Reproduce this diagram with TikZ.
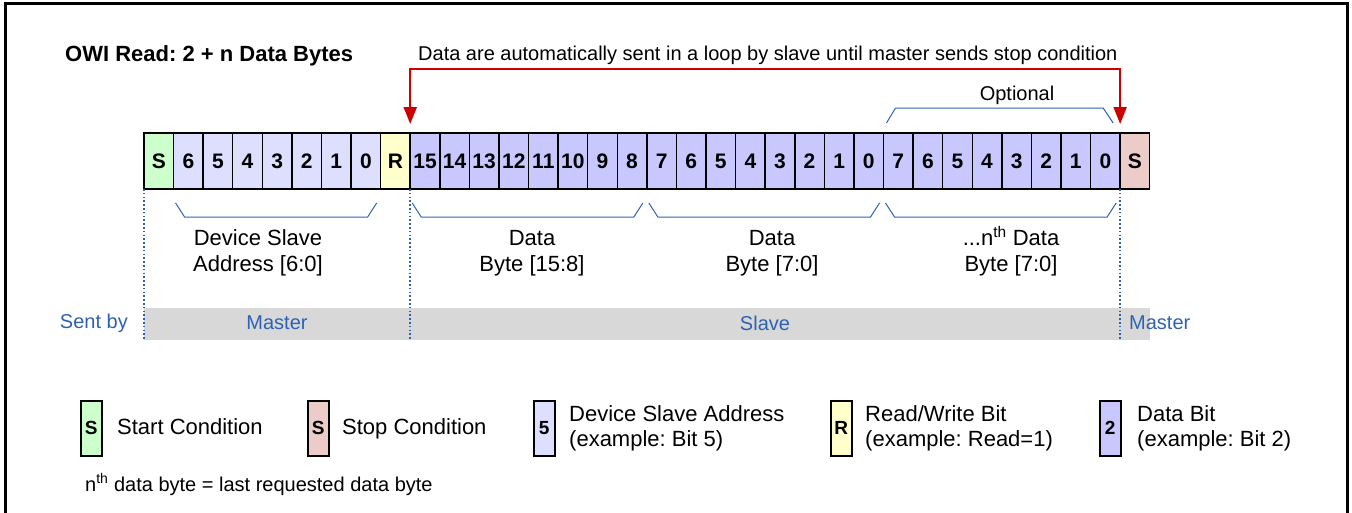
\documentclass[tikz,border=0pt]{standalone}
\usepackage{fontspec}
\setmainfont{Liberation Sans}
\usetikzlibrary{arrows.meta,calc}
\frenchspacing
\definecolor{startc}{RGB}{204,255,204}
\definecolor{stopc}{RGB}{236,204,200}
\definecolor{addrc}{RGB}{222,222,255}
\definecolor{datac}{RGB}{200,200,255}
\definecolor{rwc}{RGB}{255,255,204}
\definecolor{bluec}{RGB}{46,98,176}
\definecolor{redc}{RGB}{204,0,0}
\definecolor{bandc}{RGB}{216,216,216}
\newcommand\lowbrace[2]{\draw[bracestyle] ($(#1.south west)+(2,14)$) -- ($(#1.south west)+(11,28)$) -- ($(#2.south east)+(-13,28)$) -- ($(#2.south east)+(-4,14)$);}
\newcommand\supth{\smash{\textsuperscript{th}}}
\begin{document}
\begin{tikzpicture}[x=1pt,y=-1pt,
  bit/.style={draw=black,line width=1.5pt,minimum width=29.58pt,minimum height=56pt,inner sep=0pt,outer sep=0pt,anchor=north west,font=\fontsize{21}{21}\selectfont\bfseries},
  legbox/.style={draw=black,line width=1.5pt,minimum width=21pt,minimum height=55pt,inner sep=0pt,anchor=north west,font=\fontsize{19}{19}\selectfont\bfseries},
  txt/.style={inner sep=0pt,font=\fontsize{22}{26}\selectfont},
  legtxt/.style={inner sep=0pt,anchor=west,align=left,font=\fontsize{22}{25}\selectfont},
  small/.style={inner sep=0pt,font=\fontsize{20}{20}\selectfont},
  sent/.style={inner sep=0pt,text=bluec,font=\fontsize{20}{20}\selectfont},
  bracestyle/.style={draw=bluec,line width=1pt},
  dotline/.style={draw=bluec,line width=1.6pt,dash pattern=on 1.6pt off 2.2pt},
  redarr/.style={draw=redc,line width=2pt,{Triangle[width=13pt,length=17pt]}-{Triangle[width=13pt,length=17pt]}}
]
\useasboundingbox (0,0) rectangle (1352,512);
% frame
\draw[line width=3pt] (5,520) -- (5,3) -- (1347,3) -- (1347,520);
% title
\node[inner sep=0pt,anchor=base west,font=\fontsize{22}{22}\selectfont\bfseries] (title) at (65,61) {OWI Read: 2 + n Data Bytes};
% sent-by band
\node[fill=bandc,minimum width=1006pt,minimum height=32pt,inner sep=0pt,anchor=north west] (band) at (144,308) {};
% bit boxes
\node[bit,fill=startc] (b0) at (144,133) {S};
\foreach \t [count=\i] in {6,5,4,3,2,1,0}
  \node[bit,fill=addrc] (b\i) at ({144+\i*29.58},133) {\t};
\node[bit,fill=rwc] (b8) at ({144+8*29.58},133) {R};
\foreach \t [count=\i from 9] in {15,14,13,12,11,10,9,8,7,6,5,4,3,2,1,0,7,6,5,4,3,2,1,0}
  \node[bit,fill=datac] (b\i) at ({144+\i*29.58},133) {\t};
\node[bit,fill=stopc] (b33) at ({144+33*29.58},133) {S};
% dotted separators
\draw[dotline] (b0.south west) -- (b0.south west |- band.south);
\draw[dotline] (b8.south east) -- (b8.south east |- band.south);
\draw[dotline] (b32.south east) -- (b32.south east |- band.south);
% loop arrow
\node[small,anchor=base west] (loopnote) at (418,60) {Data are automatically sent in a loop by slave until master sends stop condition};
\draw[redarr] ($(b8.north east)+(0,-9)$) -- (b8.north east |- 0,69) -- (b32.north east |- 0,69) -- ($(b32.north east)+(0,-9)$);
% optional brace
\draw[bracestyle] ($(b25.north west)+(3,-10)$) -- ($(b25.north west)+(12,-25)$) -- ($(b32.north east)+(-17,-25)$) -- ($(b32.north east)+(-7,-10)$);
\node[small] (opt) at (1017,95) {Optional};
% lower braces
\lowbrace{b1}{b7}
\lowbrace{b9}{b16}
\lowbrace{b17}{b24}
\lowbrace{b25}{b32}
\node[txt,align=center] (lab1) at (258,253) {Device Slave\\Address [6:0]};
\node[txt,align=center] (lab2) at (532,253) {Data\\Byte [15:8]};
\node[txt,align=center] (lab3) at (772,253) {Data\\Byte [7:0]};
\node[txt,align=center] (lab4) at (1011,253) {...n\supth{} Data\\Byte [7:0]};
% sent by
\node[sent,anchor=east] (sentby) at (128,323) {Sent by};
\node[sent] (m1) at (277,323) {Master};
\node[sent] (sl) at (765,323) {Slave};
\node[sent,anchor=west] (m2) at (1129,323) {Master};
% legend
\node[legbox,fill=startc] (l1) at (80,400) {S};
\node[legtxt,anchor=base west] (lt1) at (117,434) {Start Condition};
\node[legbox,fill=stopc] (l2) at (307,400) {S};
\node[legtxt,anchor=base west] (lt2) at (342,434) {Stop Condition};
\node[legbox,fill=addrc] (l3) at (533,400) {5};
\node[legtxt] (lt3) at (569,428) {Device Slave Address\\(example: Bit 5)};
\node[legbox,fill=rwc] (l4) at (830,400) {R};
\node[legtxt] (lt4) at (865,428) {Read/Write Bit\\(example: Read=1)};
\node[legbox,fill=datac] (l5) at (1099,400) {2};
\node[legtxt] (lt5) at (1137,428) {Data Bit\\(example: Bit 2)};
% footnote
\node[small,anchor=base west] (foot) at (85,491) {n\supth{} data byte = last requested data byte};
\end{tikzpicture}
\end{document}
